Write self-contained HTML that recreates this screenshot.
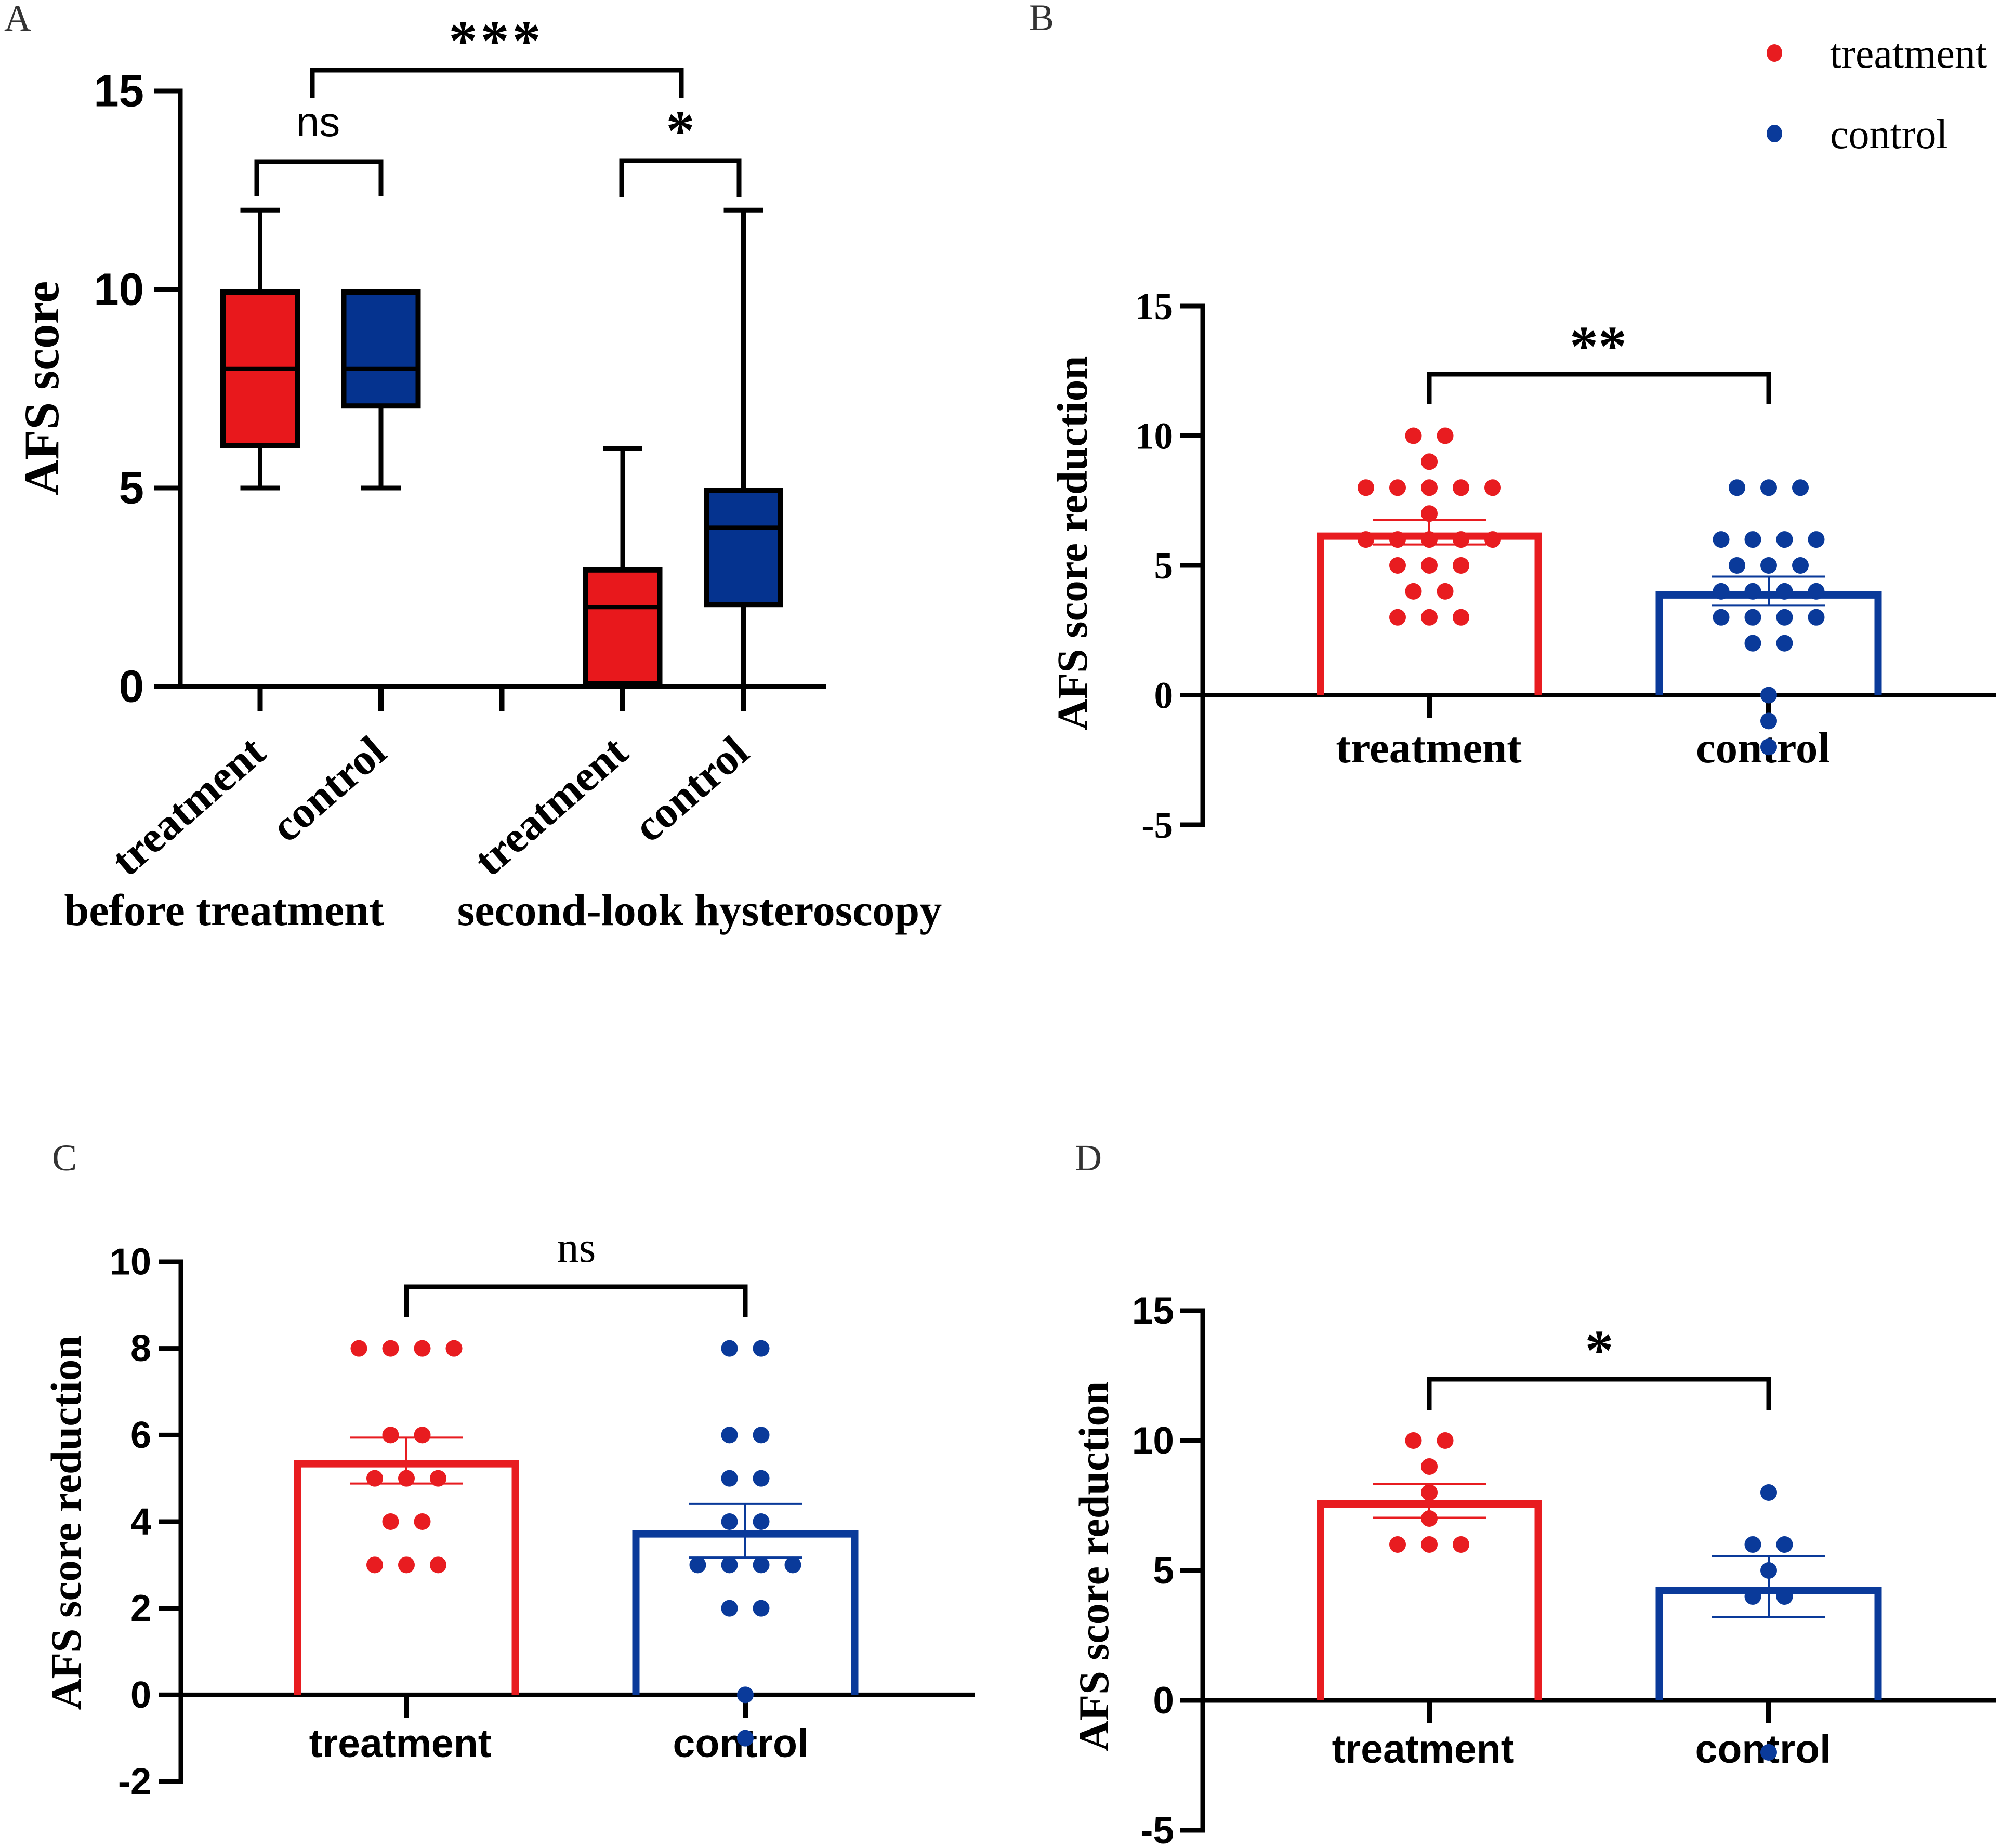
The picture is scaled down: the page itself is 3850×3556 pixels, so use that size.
<!DOCTYPE html>
<html lang="en">
<head>
<meta charset="utf-8">
<title>AFS score charts</title>
<style>
html,body{margin:0;padding:0;background:#fff}
svg{display:block}
text{fill:#000}
.serif{font-family:"Liberation Serif",serif}
.sans{font-family:"Liberation Sans",sans-serif}
</style>
</head>
<body>
<svg id="figure" xmlns="http://www.w3.org/2000/svg" width="3850" height="3556" viewBox="0 0 3850 3556">
<rect width="3850" height="3556" fill="#fff"/>
<text class="serif" x="8" y="59" font-size="72" style="fill:#333">A</text>
<text class="serif" x="1980" y="58" font-size="72" style="fill:#333">B</text>
<text class="serif" x="100" y="2252" font-size="72" style="fill:#333">C</text>
<text class="serif" x="2068" y="2252" font-size="72" style="fill:#333">D</text>
<g>
<ellipse cx="3414" cy="102" rx="15" ry="17" fill="#e81c20"/>
<text class="serif" x="3521" y="130" font-size="80">treatment</text>
<ellipse cx="3414" cy="257" rx="15" ry="17" fill="#0a3a9a"/>
<text class="serif" x="3521" y="285" font-size="80">control</text>
</g>
</svg>
<script>
// Panel A data (box plots)
const panelACategories = ['treatment', 'control', '', 'treatment', 'control'];
const panelAGroups = ['before treatment', 'second-look hysteroscopy'];
const panelATicks = [15, 10, 5, 0];
const panelAMin = [5, 5, null, 0, 0];
const panelAQ1 = [6, 7, null, 0, 2];
const panelAMedian = [8, 8, null, 2, 4];
const panelAQ3 = [10, 10, null, 3, 5];
const panelAMax = [12, 10, null, 6, 12];

// Panel B data
const panelBCategories = ['treatment', 'control'];
const panelBTicks = [15, 10, 5, 0, -5];
const panelBTreatment = [10,10,9,8,8,8,8,8,7,6,6,6,6,6,5,5,5,4,4,3,3,3];
const panelBControl = [8,8,8,6,6,6,6,5,5,5,4,4,4,4,3,3,3,3,2,2,0,-1,-2];
const panelBMeans = [6.27, 4.0];
const panelBUpper = [6.76, 4.57];
const panelBLower = [5.81, 3.45];

// Panel C data
const panelCCategories = ['treatment', 'control'];
const panelCTicks = [10, 8, 6, 4, 2, 0, -2];
const panelCTreatment = [8,8,8,8,6,6,5,5,5,4,4,3,3,3];
const panelCControl = [8,8,6,6,5,5,4,4,3,3,3,3,2,2,0,-1];
const panelCMeans = [5.42, 3.8];
const panelCUpper = [5.94, 4.41];
const panelCLower = [4.88, 3.17];

// Panel D data
const panelDCategories = ['treatment', 'control'];
const panelDTicks = [15, 10, 5, 0, -5];
const panelDTreatment = [10,10,9,8,7,6,6,6];
const panelDControl = [8,6,6,5,4,4,-2];
const panelDMeans = [7.7, 4.38];
const panelDUpper = [8.32, 5.55];
const panelDLower = [7.03, 3.2];

const RED = '#e81c20';
const BLUE = '#0a3a9a';
const NS = 'http://www.w3.org/2000/svg';
const svg = document.getElementById('figure');

function make(tag, attrs, parent) {
  const n = document.createElementNS(NS, tag);
  for (const k in attrs) n.setAttribute(k, attrs[k]);
  parent.appendChild(n);
  return n;
}
function line(parent, x1, y1, x2, y2, color, width) {
  return make('line', {x1: x1, y1: y1, x2: x2, y2: y2, stroke: color, 'stroke-width': width}, parent);
}
function label(parent, str, x, y, size, cls, weight, anchor) {
  const n = make('text', {x: x, y: y, 'font-size': size, 'font-weight': weight, 'text-anchor': anchor}, parent);
  n.setAttribute('class', cls);
  n.textContent = str;
  return n;
}
function linearY(ticks, top, bottom) {
  const hi = ticks[0], lo = ticks[ticks.length - 1];
  return v => top + (hi - v) * (bottom - top) / (hi - lo);
}

function drawBracket(parent, x1, x2, top, bottom, name) {
  const b = make('path', {d: `M${x1} ${bottom}V${top}H${x2}V${bottom}`, fill: 'none', stroke: '#000', 'stroke-width': 9}, parent);
  
  
}
function drawStars(parent, str, cx, cy, size, spacing, name) {
  const t = label(parent, str, cx, cy + size * 0.52, size, 'serif', 'bold', 'middle');
  t.setAttribute('letter-spacing', spacing);
  
  
}
function drawYAxis(parent, ticks, y, cfg) {
  const axis = line(parent, cfg.axisX, y(ticks[0]) - 4.5, cfg.axisX, y(ticks[ticks.length - 1]) + 4.5, '#000', 9);
  
  
  ticks.forEach(v => {
    const tk = line(parent, cfg.tickLeft, y(v), cfg.axisX, y(v), '#000', 9);
    
    
    const tl = label(parent, String(v), cfg.tickLabelX, y(v) + cfg.tickSize * 0.34, cfg.tickSize, cfg.tickClass, 'bold', 'end');
    
    
  });
  const title = label(parent, cfg.title, 0, 0, cfg.titleSize, 'serif', 'bold', 'middle');
  title.setAttribute('transform', `translate(${cfg.titleX} ${cfg.titleY}) rotate(-90)`);
  
  
}

function drawBarPanel(cfg, categories, ticks, treatment, control, means, upper, lower) {
  const g = make('g', {}, svg);
  
  
  const y = linearY(ticks, cfg.yTop, cfg.yBottom);
  const x = i => cfg.x0 + i * cfg.step;
  const colors = [RED, BLUE];
  const scores = [treatment, control];

  drawYAxis(g, ticks, y, cfg);
  const xAxis = line(g, cfg.tickLeft, y(0), cfg.axisRight, y(0), '#000', 9);
  
  

  categories.forEach((cat, i) => {
    const tk = line(g, x(i), y(0), x(i), y(0) + 44, '#000', 10);
    
    
    const tl = label(g, cat, x(i) + cfg.labelShift[i], cfg.labelY, cfg.labelSize, cfg.labelClass, 'bold', 'middle');
    
    
  });

  categories.forEach((cat, i) => {
    const halfW = 209.5 + i, top = y(means[i]) + 7;
    const bar = make('path', {
      d: `M${x(i) - halfW} ${y(0)}V${top}H${x(i) + halfW}V${y(0)}`,
      fill: 'none', stroke: colors[i], 'stroke-width': 14
    }, g);
    
    

    const counts = new Map();
    scores[i].forEach(v => counts.set(v, (counts.get(v) || 0) + 1));
    counts.forEach((n, v) => {
      for (let j = 0; j < n; j++) {
        const d = make('circle', {cx: x(i) + (j - (n - 1) / 2) * 61, cy: y(v), r: 16, fill: colors[i]}, g);
        
        
      }
    });

    const stem = line(g, x(i), y(upper[i]), x(i), y(lower[i]), colors[i], 4);
    
    
    [upper[i], lower[i]].forEach(v => {
      const cap = line(g, x(i) - 109, y(v), x(i) + 109, y(v), colors[i], 4);
      
      
    });
  });

  drawBracket(g, x(0), x(1), cfg.bracketTop, cfg.bracketBottom, 'significance-bracket');
  if (cfg.stars) {
    drawStars(g, cfg.stars, cfg.sigX, cfg.sigY, 110, cfg.starSpacing || 0, 'significance-stars');
  } else {
    const ns = label(g, 'ns', cfg.sigX, cfg.sigY, 84, 'serif', 'normal', 'middle');
    
    
  }
}

function drawBoxPanel() {
  const g = make('g', {}, svg);
  
  
  const y = linearY(panelATicks, 175, 1321);
  const x = i => 500.5 + i * 232.5;
  const cfg = {axisX: 347, tickLeft: 297, tickLabelX: 277, tickSize: 87, tickClass: 'sans',
               title: 'AFS score', titleSize: 95, titleX: 112, titleY: 747};
  drawYAxis(g, panelATicks, y, cfg);
  const xAxis = line(g, 297, y(0), 1590, y(0), '#000', 9);
  
  

  panelACategories.forEach((cat, i) => {
    const tk = line(g, x(i), y(0), x(i), 1369, '#000', 10);
    
    
    if (!cat) return;
    const tl = label(g, cat, 0, 0, 85, 'serif', 'bold', 'end');
    tl.setAttribute('transform', `translate(${x(i) + 15} 1455) rotate(-41)`);
    
    

    const color = cat === 'treatment' ? '#e8181c' : '#05338f';
    const whisker = line(g, x(i), y(panelAMax[i]), x(i), y(panelAMin[i]), '#000', 9);
    
    
    [panelAMax[i], panelAMin[i]].forEach(v => {
      if (v === panelAQ3[i]) return;
      const cap = line(g, x(i) - 38, y(v), x(i) + 38, y(v), '#000', 9);
      
      
    });
    const box = make('rect', {x: x(i) - 71.5, y: y(panelAQ3[i]) + 5, width: 143,
      height: y(panelAQ1[i]) - y(panelAQ3[i]) - 10, fill: color, stroke: '#000', 'stroke-width': 10}, g);
    
    
    const med = line(g, x(i) - 72, y(panelAMedian[i]), x(i) + 72, y(panelAMedian[i]), '#000', 8);
    
    
  });

  const g1 = label(g, panelAGroups[0], 431, 1780, 86, 'serif', 'bold', 'middle');
  
  
  const g2 = label(g, panelAGroups[1], 1346, 1780, 86, 'serif', 'bold', 'middle');
  
  

  drawBracket(g, 601, 1311, 135, 189, 'significance-bracket-overall');
  drawBracket(g, 494, 733, 311, 378, 'significance-bracket-before');
  drawBracket(g, 1196, 1422, 309, 380, 'significance-bracket-second-look');
  drawStars(g, '***', 955, 58, 110, 6, 'significance-stars-overall');
  drawStars(g, '*', 1309, 231, 110, 0, 'significance-stars-second-look');
  const ns = label(g, 'ns', 612, 262, 80, 'sans', 'normal', 'middle');
  
  
}

drawBoxPanel();

drawBarPanel({
  name: 'panel-b-bar-chart', yTop: 589, yBottom: 1587, axisX: 2314, tickLeft: 2271, axisRight: 3840,
  tickLabelX: 2257, tickSize: 73, tickClass: 'serif', title: 'AFS score reduction', titleSize: 83,
  titleX: 2091, titleY: 1045, x0: 2750, step: 653, labelShift: [-1, -11], labelY: 1467, labelSize: 85,
  labelClass: 'serif', bracketTop: 720, bracketBottom: 778, stars: '**', starSpacing: 0, sigX: 3075, sigY: 646
}, panelBCategories, panelBTicks, panelBTreatment, panelBControl, panelBMeans, panelBUpper, panelBLower);

drawBarPanel({
  name: 'panel-c-bar-chart', yTop: 2428, yBottom: 3428, axisX: 348, tickLeft: 305,  axisRight: 1876,
  tickLabelX: 291, tickSize: 72, tickClass: 'sans', title: 'AFS score reduction', titleSize: 83,
  titleX: 155, titleY: 2930, x0: 782, step: 652, labelShift: [-12, -9], labelY: 3381, labelSize: 77,
  labelClass: 'sans', bracketTop: 2476, bracketBottom: 2534, stars: '', sigX: 1109, sigY: 2428
}, panelCCategories, panelCTicks, panelCTreatment, panelCControl, panelCMeans, panelCUpper, panelCLower);

drawBarPanel({
  name: 'panel-d-bar-chart', yTop: 2522, yBottom: 3522, axisX: 2314, tickLeft: 2271, axisRight: 3840,
  tickLabelX: 2259, tickSize: 73, tickClass: 'sans', title: 'AFS score reduction', titleSize: 82,
  titleX: 2132, titleY: 3014, x0: 2750, step: 653, labelShift: [-12, -11], labelY: 3392, labelSize: 77,
  labelClass: 'sans', bracketTop: 2654, bracketBottom: 2713, stars: '*', sigX: 3077, sigY: 2578
}, panelDCategories, panelDTicks, panelDTreatment, panelDControl, panelDMeans, panelDUpper, panelDLower);
</script>
</body>
</html>
